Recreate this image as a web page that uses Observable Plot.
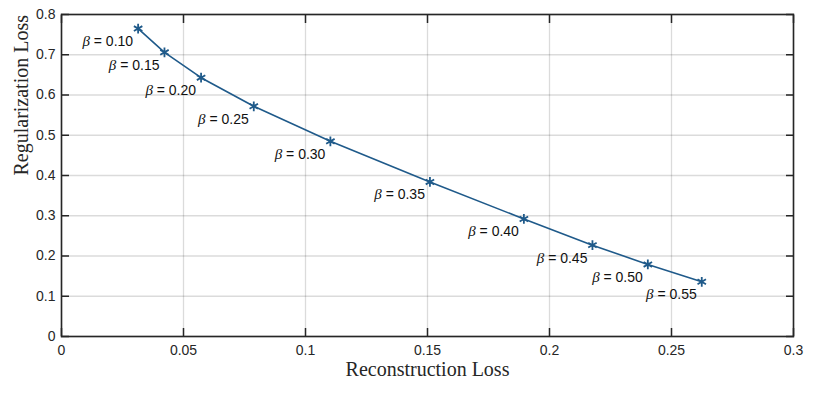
<!DOCTYPE html>
<html>
<head>
<meta charset="utf-8">
<script src="https://cdn.jsdelivr.net/npm/d3@7"></script>
<script src="https://cdn.jsdelivr.net/npm/@observablehq/plot@0.6"></script>
<style>
  html, body { margin: 0; padding: 0; background: #fff; }
  #chart { width: 822px; height: 396px; }
</style>
</head>
<body>
<div id="chart"></div>
<script>
const beta  = [0.10, 0.15, 0.20, 0.25, 0.30, 0.35, 0.40, 0.45, 0.50, 0.55];
const recon = [0.0314, 0.0422, 0.0572, 0.0788, 0.1102, 0.1510, 0.1895, 0.2176, 0.2403, 0.2624];
const reg   = [0.765, 0.706, 0.643, 0.572, 0.485, 0.384, 0.292, 0.227, 0.179, 0.136];
const xTicks = [0, 0.05, 0.1, 0.15, 0.2, 0.25, 0.3];
const yTicks = [0, 0.1, 0.2, 0.3, 0.4, 0.5, 0.6, 0.7, 0.8];
const xLabel = "Reconstruction Loss";
const yLabel = "Regularization Loss";

const data = beta.map((b, i) => ({beta: b, x: recon[i], y: reg[i], label: "β = " + b.toFixed(2)}));

const axisColor = "#262626";
const fmt = d => d === 0 ? "0" : String(+d.toFixed(2));

const chart = Plot.plot({
  width: 822,
  height: 396,
  marginLeft: 61,
  marginRight: 29,
  marginTop: 14,
  marginBottom: 60,
  style: {fontFamily: "'Liberation Sans', Arial, sans-serif", background: "#fff"},
  x: {domain: [0, 0.3]},
  y: {domain: [0, 0.8]},
  marks: [
    Plot.gridX(xTicks, {stroke: "#000", strokeOpacity: 0.14, strokeWidth: 1.3}),
    Plot.gridY(yTicks, {stroke: "#000", strokeOpacity: 0.14, strokeWidth: 1.3}),
    // inward ticks on all four sides
    Plot.axisX(xTicks, {anchor: "bottom", tickSize: -8, tickFormat: () => "", label: null, stroke: axisColor, strokeWidth: 1.5}),
    Plot.axisX(xTicks, {anchor: "top", tickSize: -8, tickFormat: () => "", label: null, stroke: axisColor, strokeWidth: 1.5}),
    Plot.axisY(yTicks, {anchor: "left", tickSize: -8, tickFormat: () => "", label: null, stroke: axisColor, strokeWidth: 1.5}),
    Plot.axisY(yTicks, {anchor: "right", tickSize: -8, tickFormat: () => "", label: null, stroke: axisColor, strokeWidth: 1.5}),
    // tick labels
    Plot.axisX(xTicks, {anchor: "bottom", tickSize: 0, tickPadding: 9, tickFormat: fmt, label: null, fontSize: 14, fill: axisColor}),
    Plot.axisY(yTicks, {anchor: "left", tickSize: 0, tickPadding: 6, tickFormat: fmt, label: null, fontSize: 14, fill: axisColor}),
    Plot.frame({stroke: axisColor, strokeWidth: 1.6}),
    // data
    Plot.line(data, {x: "x", y: "y", stroke: "#1f5a8a", strokeWidth: 1.6}),
    Plot.dot(data, {x: "x", y: "y", symbol: "asterisk", r: 4.6, stroke: "#1f5a8a", strokeWidth: 1.8}),
    Plot.text(data, {x: "x", y: "y", text: "label", textAnchor: "end", dx: -5, dy: 13, fontSize: 14, fill: "#111", className: "betalab"}),
    // axis titles
    Plot.text([xLabel], {frameAnchor: "bottom", dy: 39, fontSize: 20, fontFamily: "'Liberation Serif', 'Times New Roman', serif", fill: "#262626"}),
    Plot.text([yLabel], {frameAnchor: "left", rotate: -90, dx: -40, fontSize: 20, fontFamily: "'Liberation Serif', 'Times New Roman', serif", fill: "#262626"})
  ]
});

// italic beta
d3.select(chart).selectAll(".betalab text").each(function() {
  const t = this.textContent;
  if (!t.startsWith("β")) return;
  const rest = t.slice(1);
  const sel = d3.select(this);
  sel.text(null);
  sel.append("tspan").attr("font-family", "'Liberation Serif', serif").attr("font-style", "italic").attr("font-size", 15).text("β");
  sel.append("tspan").text(rest);
});

document.getElementById("chart").appendChild(chart);
</script>
</body>
</html>
